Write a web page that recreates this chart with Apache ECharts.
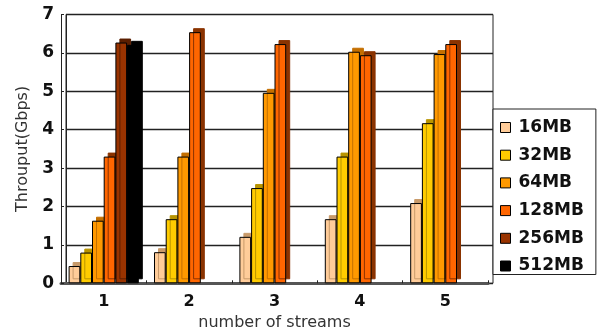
<!DOCTYPE html>
<html>
<head>
<meta charset="utf-8">
<script src="https://cdn.jsdelivr.net/npm/echarts@6/dist/echarts.min.js"></script>
<style>
  html, body { margin: 0; padding: 0; background: #fff; }
  #chart { width: 604px; height: 329px; }
</style>
</head>
<body>
<div id="chart"></div>
<script>
// Throughput (Gbps) by number of parallel streams, one bar per buffer size
const streams = ['1', '2', '3', '4', '5'];
const bufferSizes = ['16MB', '32MB', '64MB', '128MB', '256MB', '512MB'];

const mb16  = [0.45, 0.81, 1.21, 1.67, 2.09];
const mb32  = [0.80, 1.67, 2.48, 3.30, 4.17];
const mb64  = [1.63, 3.30, 4.96, 6.03, 5.97];
const mb128 = [3.30, 6.54, 6.23, 5.94, 6.23];
const mb256 = [6.27, '-', '-', '-', '-'];
const mb512 = [6.21, '-', '-', '-', '-'];

const seriesValues = [mb16, mb32, mb64, mb128, mb256, mb512];
const faceColors = ['#FFCC99', '#FFCC00', '#FF9900', '#FF6600', '#993300', '#000000'];
const depthColors = ['#C89A6A', '#B89400', '#C46F00', '#8A3300', '#5A1E00', '#000000'];

const FONT = 'DejaVu Sans';

const chart = echarts.init(document.getElementById('chart'), null, { renderer: 'canvas' });

const series = seriesValues.map((vals, i) => ({
  name: bufferSizes[i],
  type: 'bar',
  xAxisIndex: 1,
  yAxisIndex: 1,
  data: vals,
  barWidth: 11.7,
  barGap: '0%',
  itemStyle: {
    color: faceColors[i],
    borderColor: '#000',
    borderWidth: 1,
    // fake extrusion: sharp offset shadow gives a top cap and right side
    shadowColor: depthColors[i],
    shadowBlur: 0,
    shadowOffsetX: 4,
    shadowOffsetY: -4
  },
  emphasis: { disabled: true },
  animation: false
}));

chart.setOption({
  backgroundColor: '#fff',
  animation: false,
  grid: [
    // back wall
    { left: 66, right: 111, top: 14.5, bottom: 45.7, outerBoundsMode: 'none', containLabel: false,
      show: true, borderColor: '#222', borderWidth: 1, backgroundColor: '#fff' },
    // front plane where bars and labels sit
    { left: 61, right: 116, top: 14.5, bottom: 45.7, outerBoundsMode: 'none', containLabel: false }
  ],
  xAxis: [
    { gridIndex: 0, type: 'category', data: streams, show: false },
    {
      gridIndex: 1,
      type: 'category',
      data: streams,
      axisLine: { show: true, lineStyle: { color: '#555', width: 3 } },
      axisTick: { show: true, inside: true, length: 3, alignWithLabel: false, lineStyle: { color: '#222' } },
      axisLabel: { color: '#111', fontFamily: FONT, fontSize: 16, fontWeight: 'bold', margin: 11 },
      name: 'number of streams',
      nameLocation: 'middle',
      nameGap: 27,
      nameTextStyle: { color: '#333', fontFamily: FONT, fontSize: 16 }
    }
  ],
  yAxis: [
    {
      gridIndex: 0,
      type: 'value',
      min: 0, max: 7, interval: 1,
      axisLine: { show: true, lineStyle: { color: '#222', width: 1 } },
      axisTick: { show: false },
      axisLabel: { show: false },
      splitLine: { show: true, lineStyle: { color: '#222', width: 1.4 } }
    },
    {
      gridIndex: 1,
      type: 'value',
      min: 0, max: 7, interval: 1,
      axisLine: { show: true, lineStyle: { color: '#222', width: 1 } },
      axisTick: { show: true, inside: true, length: 3, lineStyle: { color: '#222' } },
      axisLabel: { color: '#111', fontFamily: FONT, fontSize: 17, fontWeight: 'bold', margin: 7 },
      splitLine: { show: false },
      name: 'Throuput(Gbps)',
      nameLocation: 'middle',
      nameGap: 30,
      nameRotate: 90,
      nameTextStyle: { color: '#333', fontFamily: FONT, fontSize: 16 }
    }
  ],
  legend: {
    data: bufferSizes,
    orient: 'vertical',
    left: 493,
    top: 109,
    padding: [10, 9, 0, 7],
    itemGap: 10.7,
    itemWidth: 10,
    itemHeight: 10,
    icon: 'rect',
    backgroundColor: '#fff',
    borderColor: '#222',
    borderWidth: 1,
    selectedMode: false,
    itemStyle: {
      borderColor: '#000',
      borderWidth: 1,
      shadowBlur: 0,
      shadowOffsetX: 0,
      shadowOffsetY: 0,
      shadowColor: 'rgba(0,0,0,0)'
    },
    textStyle: { color: '#111', fontFamily: FONT, fontSize: 17, fontWeight: 'bold', lineHeight: 17, padding: [0, 3, 0, 3] }
  },
  series: series
});
</script>
</body>
</html>
